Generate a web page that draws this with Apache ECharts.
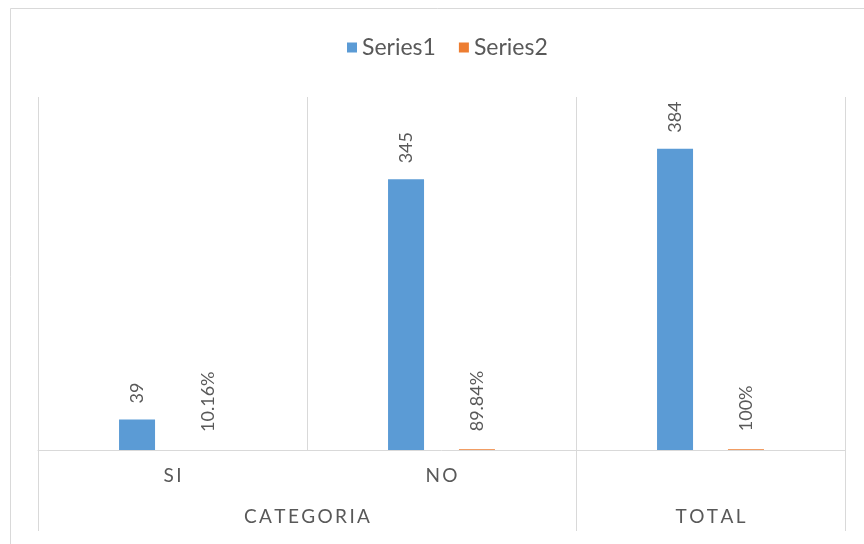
<!DOCTYPE html>
<html>
<head>
<meta charset="utf-8">
<script src="https://cdn.jsdelivr.net/npm/echarts@6/dist/echarts.min.js"></script>
<style>html,body{margin:0;padding:0;background:#fff}#c{width:864px;height:544px}</style>
</head>
<body>
<div id="c"></div>
<script>
const categories = ['S\u2009I', 'N\u2009O', ''];
const groupLabels = ['C\u2009A\u2009T\u2009E\u2009G\u2009O\u2009R\u2009I\u2009A', 'T\u2009O\u2009T\u2009A\u2009L'];
const groupCenters = [1, 2.5];
const groupBounds = [0, 2, 3];
const series1 = [39, 345, 384];
const series2 = [0.1016, 0.8984, 1];
const seriesNames = ['Series1', 'Series2'];

const grey = '#595959';
const lineC = '#d9d9d9';
const font = 'Lato';

const chart = echarts.init(document.getElementById('c'));
chart.setOption({
  animation: false,
  backgroundColor: '#fff',
  textStyle: { fontFamily: font },
  graphic: [{
    type: 'rect', left: 8, top: 6,
    shape: { width: 900, height: 600 },
    style: { fill: 'none', stroke: lineC, lineWidth: 1 }, silent: true
  }],
  legend: {
    top: 31, left: 342, itemWidth: 10, itemHeight: 10, itemGap: 23,
    icon: 'rect',
    textStyle: { color: grey, fontSize: 23, fontFamily: font }
  },
  grid: { left: 38, right: 19, top: 97, bottom: 94, containLabel: false },
  xAxis: [{
    type: 'category', data: categories, position: 'bottom',
    axisLine: { show: true, lineStyle: { color: lineC, width: 1 } },
    axisTick: { show: false },
    splitLine: { show: true, lineStyle: { color: lineC, width: 1 } },
    axisLabel: { color: grey, fontSize: 19, margin: 16, fontFamily: font }
  }, {
    type: 'value', min: 0, max: 3, position: 'bottom',
    axisLine: { show: false },
    splitLine: { show: false },
    axisTick: { show: true, length: 81, customValues: groupBounds, lineStyle: { color: lineC, width: 1 } },
    axisLabel: {
      show: true, customValues: groupCenters, margin: 57, color: grey, fontSize: 19, fontFamily: font,
      formatter: function (v) {
        const i = groupCenters.indexOf(v);
        return i >= 0 ? groupLabels[i] : '';
      }
    }
  }],
  yAxis: { type: 'value', min: 0, max: 450, show: false, splitLine: { show: false } },
  series: [{
    name: seriesNames[0], type: 'bar', data: series1, barWidth: 36, barGap: '97%',
    itemStyle: { color: '#5B9BD5' },
    label: {
      show: true, position: 'top', rotate: 90, align: 'left', verticalAlign: 'middle',
      distance: 16, color: grey, fontSize: 18, fontFamily: font
    }
  }, {
    name: seriesNames[1], type: 'bar', data: series2, barWidth: 36, barGap: '97%',
    itemStyle: { color: '#ED7D31' },
    label: {
      show: true, position: 'top', rotate: 90, align: 'left', verticalAlign: 'middle',
      distance: 18, color: grey, fontSize: 18, fontFamily: font,
      formatter: function (p) { return +(p.value * 100).toFixed(2) + '%'; }
    }
  }]
});
</script>
</body>
</html>
